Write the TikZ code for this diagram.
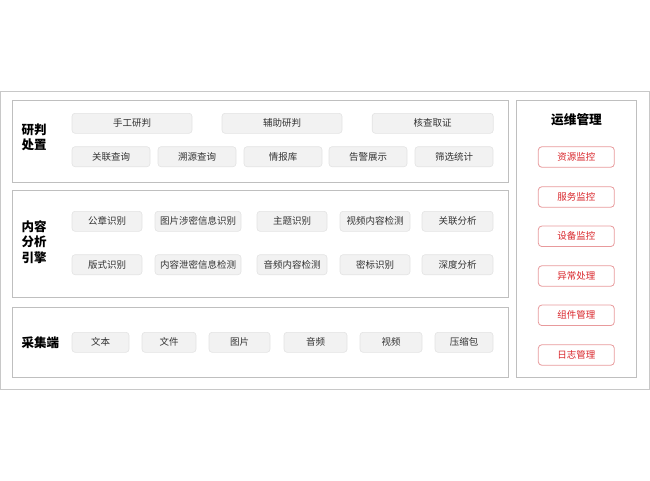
\documentclass[tikz,border=0pt]{standalone}
\usepackage{fontspec}
\newfontfamily\cjk{Noto Sans CJK SC}
\definecolor{frame}{HTML}{C8C8C8}
\definecolor{panel}{HTML}{BFBFBF}
\definecolor{boxfill}{HTML}{F2F2F2}
\definecolor{boxline}{HTML}{E3E3E3}
\definecolor{txt}{HTML}{333333}
\definecolor{redtxt}{HTML}{D9262B}
\definecolor{redline}{HTML}{E89A9C}
\begin{document}
\begin{tikzpicture}[x=1pt,y=-1pt,
  panelbox/.style={draw=panel,line width=0.9pt},
  gbox/.style={draw=boxline,fill=boxfill,rounded corners=3pt,line width=0.6pt,minimum height=20pt,inner sep=0pt,font=\cjk\fontsize{9.5}{11}\selectfont,text=txt},
  rbox/.style={draw=redline,fill=white,rounded corners=3.5pt,line width=0.8pt,minimum height=20.5pt,minimum width=76pt,inner sep=0pt,font=\cjk\fontsize{9.5}{11}\selectfont,text=redtxt},
  lbl/.style={anchor=west,align=left,inner sep=0pt,font=\cjk\bfseries\fontsize{12.5}{15.5}\selectfont,text=black}]
\useasboundingbox (0,0) rectangle (650,480);
\draw[draw=frame,line width=0.9pt] (0.5,91) rectangle (649.5,389);
% panels
\draw[panelbox] (12.7,100.3) rectangle (508.3,182.3);
\draw[panelbox] (12.7,190.7) rectangle (508.3,297.7);
\draw[panelbox] (12.7,307.3) rectangle (508.3,377.3);
\draw[panelbox] (516.7,100.3) rectangle (636.5,377.3);
% labels
\node[lbl] (l1) at (21.5,137.3) {研判\\处置};
\node[lbl] (l2) at (21.5,241.7) {内容\\分析\\引擎};
\node[lbl] (l3) at (21.5,342.3) {采集端};
\node[font=\cjk\bfseries\fontsize{12.7}{15}\selectfont,inner sep=0pt] (l4) at (576.5,120) {运维管理};
% panel 1
\node[gbox,minimum width=120pt] (a1) at (132,123.3) {手工研判};
\node[gbox,minimum width=120pt] (a2) at (282,123.3) {辅助研判};
\node[gbox,minimum width=121pt] (a3) at (432.7,123.3) {核查取证};
\node[gbox,minimum width=78pt] (b1) at (111,156.7) {关联查询};
\node[gbox,minimum width=78pt] (b2) at (197,156.7) {溯源查询};
\node[gbox,minimum width=78pt] (b3) at (283,156.7) {情报库};
\node[gbox,minimum width=78pt] (b4) at (368,156.7) {告警展示};
\node[gbox,minimum width=78pt] (b5) at (454,156.7) {筛选统计};
% panel 2
\node[gbox,minimum width=70pt] (c1) at (107,221.3) {公章识别};
\node[gbox,minimum width=86pt] (c2) at (198,221.3) {图片涉密信息识别};
\node[gbox,minimum width=70pt] (c3) at (292,221.3) {主题识别};
\node[gbox,minimum width=70pt] (c4) at (375,221.3) {视频内容检测};
\node[gbox,minimum width=71pt] (c5) at (457.5,221.3) {关联分析};
\node[gbox,minimum width=70pt] (d1) at (107,264.7) {版式识别};
\node[gbox,minimum width=86pt] (d2) at (198,264.7) {内容泄密信息检测};
\node[gbox,minimum width=70pt] (d3) at (292,264.7) {音频内容检测};
\node[gbox,minimum width=70pt] (d4) at (375,264.7) {密标识别};
\node[gbox,minimum width=71pt] (d5) at (457.5,264.7) {深度分析};
% panel 3
\node[gbox,minimum width=57pt] (e1) at (100.5,342.3) {文本};
\node[gbox,minimum width=54pt] (e2) at (169,342.3) {文件};
\node[gbox,minimum width=61pt] (e3) at (239.5,342.3) {图片};
\node[gbox,minimum width=63pt] (e4) at (315.5,342.3) {音频};
\node[gbox,minimum width=62pt] (e5) at (391,342.3) {视频};
\node[gbox,minimum width=58pt] (e6) at (464,342.3) {压缩包};
% right
\node[rbox] (r1) at (576.3,157) {资源监控};
\node[rbox] (r2) at (576.3,197) {服务监控};
\node[rbox] (r3) at (576.3,236.3) {设备监控};
\node[rbox] (r4) at (576.3,276) {异常处理};
\node[rbox] (r5) at (576.3,315.3) {组件管理};
\node[rbox] (r6) at (576.3,355) {日志管理};
\end{tikzpicture}
\end{document}
